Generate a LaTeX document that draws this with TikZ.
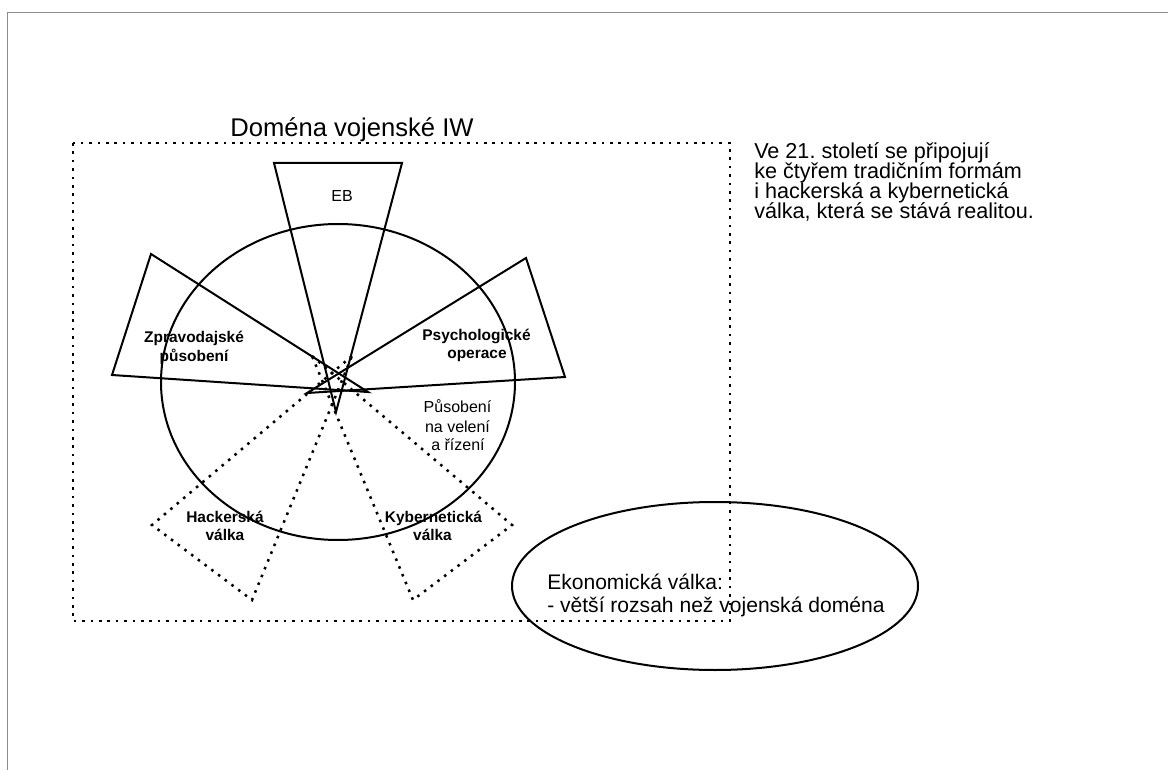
\documentclass[tikz,border=0pt]{standalone}
\usepackage{fontspec}
\setmainfont{Liberation Sans}
\frenchspacing
\begin{document}
\begin{tikzpicture}[x=0.75pt,y=-0.75pt,
  solidline/.style={line width=1.5pt, line join=miter},
  dotline/.style={line width=1.9pt, dash pattern=on 1.9pt off 4.4pt},
  frameline/.style={line width=1.1pt, draw=black!45},
  lbl/.style={inner sep=0pt, anchor=base, font=\fontsize{12}{14}\selectfont},
  lblb/.style={inner sep=0pt, anchor=base, font=\fontsize{11.6}{14}\selectfont\bfseries},
  bigtext/.style={inner sep=0pt, anchor=base west, font=\fontsize{15.8}{19}\selectfont},
  notetext/.style={inner sep=0pt, anchor=base west, font=\fontsize{16.2}{19}\selectfont},
]
\useasboundingbox (0,0) rectangle (1168,770);

% page frame
\draw[frameline] (1175,12.5) -- (7.5,12.5) -- (7.5,780);

% military IW domain
\draw[dotline] (73,143) rectangle (730,621);
\node[inner sep=0pt, anchor=base, font=\fontsize{19.2}{22}\selectfont] (title) at (352,137) {Doména vojenské IW};

% central circle
\draw[solidline] (338,382) ellipse [x radius=132.75pt, y radius=118.5pt];

% solid sectors
\coordinate (ebA) at (336,412);
\coordinate (ebL) at (274,163);
\coordinate (ebR) at (402,163);
\draw[solidline] (ebA) -- (ebL) -- (ebR) -- cycle;

\coordinate (zpA) at (368,392);
\coordinate (zpT) at (151,254);
\coordinate (zpB) at (112,375);
\draw[solidline] (zpA) -- (zpT) -- (zpB) -- cycle;

\coordinate (psA) at (307,393);
\coordinate (psT) at (526,258);
\coordinate (psB) at (565,377);
\draw[solidline] (psA) -- (psT) -- (psB) -- cycle;

% dotted sectors
\coordinate (haA) at (352,356);
\coordinate (haL) at (152,525);
\coordinate (haB) at (252,600);
\draw[dotline] (haA) -- (haL) -- (haB) -- cycle;

\coordinate (kyA) at (312,356);
\coordinate (kyR) at (512,525);
\coordinate (kyB) at (413,600);
\draw[dotline] (kyA) -- (kyR) -- (kyB) -- cycle;

% labels
\node[lbl] (eb) at (342,202) {EB};
\node[lblb] (zp1) at (194,342) {Zpravodajské};
\node[lblb] (zp2) at (194,361) {působení};
\node[lblb] (ps1) at (476.5,340) {Psychologické};
\node[lblb] (ps2) at (477,358) {operace};
\node[lbl] (cc1) at (457.5,412) {Působení};
\node[lbl] (cc2) at (457.5,432) {na velení};
\node[lbl] (cc3) at (458,450) {a řízení};
\node[lblb] (ha1) at (225,522) {Hackerská};
\node[lblb] (ha2) at (225,540) {válka};
\node[lblb] (ky1) at (433.5,522) {Kybernetická};
\node[lblb] (ky2) at (432.5,540) {válka};

% economic warfare
\draw[solidline] (715,586) ellipse [x radius=152.25pt, y radius=63pt];
\node[bigtext] (ek1) at (547,589) {Ekonomická válka:};
\node[bigtext] (ek2) at (547,612) {- větší rozsah než vojenská doména};

% side note
\node[notetext] (nt1) at (754,158.5) {Ve 21. století se připojují};
\node[notetext] (nt2) at (754,178.5) {ke čtyřem tradičním formám};
\node[notetext] (nt3) at (754,198.5) {i hackerská a kybernetická};
\node[notetext] (nt4) at (754,218.5) {válka, která se stává realitou.};
\end{tikzpicture}
\end{document}
